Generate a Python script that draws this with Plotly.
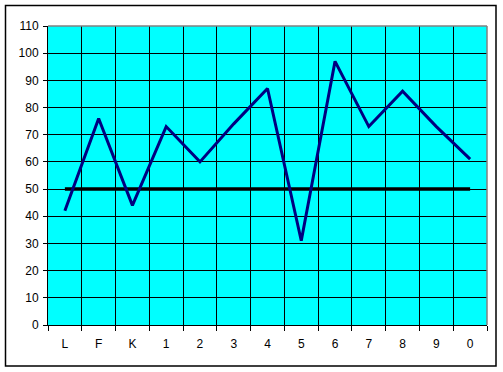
import plotly.graph_objects as go

categories = ["L", "F", "K", "1", "2", "3", "4", "5", "6", "7", "8", "9", "0"]
values = [42, 76, 44, 73, 60, 74, 87, 31, 97, 73, 86, 73, 61]
threshold = [50] * len(categories)
y_ticks = list(range(0, 111, 10))

xs = list(range(len(categories)))

fig = go.Figure()
fig.add_trace(go.Scatter(x=xs, y=threshold, mode="lines",
                         line=dict(color="black", width=3.5), hoverinfo="skip"))
fig.add_trace(go.Scatter(x=xs, y=values, mode="lines",
                         line=dict(color="#000080", width=3)))

L, T, R, B = 48, 26, 16, 47
W, H = 503, 372
pw, ph = W - L - R, H - T - B

fig.update_layout(
    width=W, height=H,
    margin=dict(l=L, r=R, t=T, b=B, pad=0),
    paper_bgcolor="white", plot_bgcolor="#00FFFF",
    showlegend=False,
    font=dict(family="Liberation Sans, Arial", size=12, color="black"),
    xaxis=dict(range=[-0.5, len(categories) - 0.5], tickmode="array",
               tickvals=xs, ticktext=categories, showgrid=False,
               ticks="", showline=True, linecolor="black", linewidth=1,
               zeroline=False, ticklabelstandoff=8,
               minor=dict(tick0=-0.5, dtick=1, showgrid=True, gridcolor="black",
                          gridwidth=1, ticks="outside", ticklen=5,
                          tickcolor="black")),
    yaxis=dict(range=[0, 110], tickmode="array", tickvals=y_ticks,
               showgrid=True, gridcolor="black", gridwidth=1,
               ticks="outside", ticklen=4, tickcolor="black",
               showline=True, linecolor="black", linewidth=1,
               zeroline=False, ticklabelstandoff=2),
)

# gray top/right border of plot area
fig.add_shape(type="line", xref="paper", yref="paper", x0=0, x1=1, y0=1, y1=1,
              line=dict(color="#808080", width=1.5))
fig.add_shape(type="line", xref="paper", yref="paper", x0=1, x1=1, y0=0, y1=1,
              line=dict(color="#808080", width=1.5))

# outer chart border
bx0 = (5.5 - L) / pw
bx1 = (496 - L) / pw
by1 = (H - B - 5.5) / ph
by0 = (H - B - 366) / ph
fig.add_shape(type="rect", xref="paper", yref="paper",
              x0=bx0, x1=bx1, y0=by0, y1=by1,
              line=dict(color="black", width=1.5), fillcolor="rgba(0,0,0,0)")

fig.write_html("out.html")
